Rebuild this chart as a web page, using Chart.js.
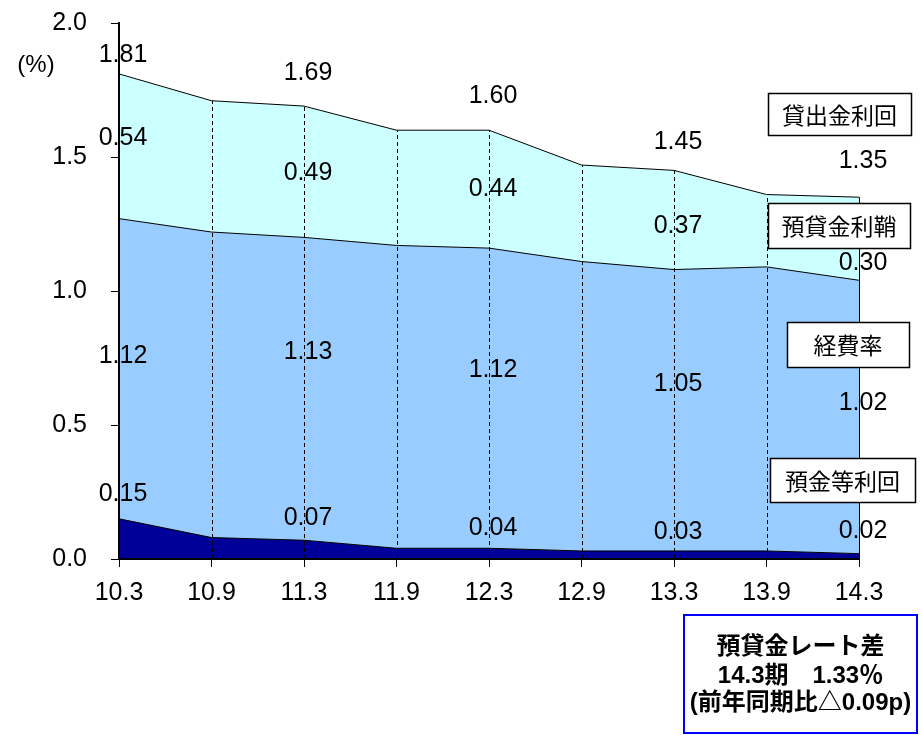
<!DOCTYPE html>
<html lang="ja">
<head>
<meta charset="utf-8">
<title>預貸金レート差の推移</title>
<script src="https://cdn.jsdelivr.net/npm/chart.js@4/dist/chart.umd.min.js"></script>
<style>
  html, body { margin: 0; padding: 0; background: #ffffff; }
  #wrap { position: relative; width: 922px; height: 735px; }
  canvas { display: block; }
</style>
</head>
<body>
<div id="wrap"><canvas id="chart" width="922" height="735"></canvas></div>
<script>
// 期（年.月）
const periods = ['10.3', '10.9', '11.3', '11.9', '12.3', '12.9', '13.3', '13.9', '14.3'];
// 預金等利回 (%)
const depositYield = [0.15, 0.08, 0.07, 0.04, 0.04, 0.03, 0.03, 0.03, 0.02];
// 経費率 (%)
const expenseRatio = [1.12, 1.14, 1.13, 1.13, 1.12, 1.08, 1.05, 1.06, 1.02];
// 貸出金利回 (%)
const loanYield = [1.81, 1.71, 1.69, 1.60, 1.60, 1.47, 1.45, 1.36, 1.35];
// 預貸金利鞘 (%)
const loanDepositSpread = [0.54, 0.49, 0.49, 0.43, 0.44, 0.36, 0.37, 0.27, 0.30];
// 数値ラベルを表示する期（3月期）
const labeledIdx = [0, 2, 4, 6, 8];
// 縦軸目盛
const yTicks = [0.0, 0.5, 1.0, 1.5, 2.0];

// 預金等利回 + 経費率（経費率の帯の上端）
const costTop = depositYield.map((d, i) => +(d + expenseRatio[i]).toFixed(2));

const NUM_FONT = '"Liberation Sans", Arial, "Noto Sans CJK JP", sans-serif';
const JP_FONT = '"Noto Sans CJK JP", "Liberation Sans", sans-serif';

// ラベルの縦方向の微調整 (px)、labeledIdx の順
const labelShift = {
  loan:    [-19, -33, -34, -28, -36],
  spread:  [-8, 1, 0, 6, 24],
  expense: [-13, -37, -28, -26, -14],
  deposit: [-25, -22, -20, -19, -23]
};

// 軸線を塗りの上に描き直す
const axisLines = {
  id: 'axisLines',
  afterDatasetsDraw(chart) {
    const { ctx, chartArea: a } = chart;
    ctx.save();
    ctx.strokeStyle = '#000';
    ctx.lineWidth = 2;
    ctx.beginPath();
    ctx.moveTo(a.left, a.top);
    ctx.lineTo(a.left, a.bottom);
    ctx.lineTo(a.right, a.bottom);
    ctx.stroke();
    ctx.restore();
  }
};

// 各期の補助線（破線）と右端の実線
const dropLines = {
  id: 'dropLines',
  afterDatasetsDraw(chart) {
    const { ctx, scales: { x, y } } = chart;
    ctx.save();
    ctx.strokeStyle = '#000';
    ctx.lineWidth = 1;
    for (let i = 1; i < periods.length; i++) {
      const px = Math.round(x.getPixelForValue(i)) + 0.5;
      ctx.setLineDash(i === periods.length - 1 ? [] : [4, 3]);
      ctx.beginPath();
      ctx.moveTo(px, y.getPixelForValue(0));
      ctx.lineTo(px, y.getPixelForValue(loanYield[i]));
      ctx.stroke();
    }
    ctx.restore();
  }
};

// 数値ラベル
const valueLabels = {
  id: 'valueLabels',
  afterDatasetsDraw(chart) {
    const { ctx, scales: { x, y } } = chart;
    ctx.save();
    ctx.font = '25px ' + NUM_FONT;
    ctx.fillStyle = '#000';
    ctx.textAlign = 'center';
    ctx.textBaseline = 'middle';
    labeledIdx.forEach((i, k) => {
      const px = x.getPixelForValue(i) + 4;
      const yLoan = y.getPixelForValue(loanYield[i]);
      const yCost = y.getPixelForValue(costTop[i]);
      const yDep = y.getPixelForValue(depositYield[i]);
      ctx.fillText(loanYield[i].toFixed(2), px, yLoan + labelShift.loan[k]);
      ctx.fillText(loanDepositSpread[i].toFixed(2), px, (yLoan + yCost) / 2 + labelShift.spread[k]);
      ctx.fillText(expenseRatio[i].toFixed(2), px, (yCost + yDep) / 2 + labelShift.expense[k]);
      ctx.fillText(depositYield[i].toFixed(2), px, yDep + labelShift.deposit[k]);
    });
    ctx.restore();
  }
};

// 系列名の囲み・単位・注記
const callouts = {
  id: 'callouts',
  afterDraw(chart) {
    const { ctx } = chart;
    ctx.save();
    ctx.textAlign = 'center';
    ctx.textBaseline = 'middle';
    ctx.fillStyle = '#000';
    ctx.font = '24px ' + NUM_FONT;
    ctx.fillText('(%)', 36, 65);

    const boxes = [
      { text: '貸出金利回', x: 768, y: 93, w: 143, h: 42 },
      { text: '預貸金利鞘', x: 768, y: 203, w: 142, h: 45 },
      { text: '経費率', x: 787, y: 322, w: 122, h: 45 },
      { text: '預金等利回', x: 770, y: 458, w: 145, h: 44 }
    ];
    ctx.font = '23px ' + JP_FONT;
    boxes.forEach(b => {
      ctx.fillStyle = '#fff';
      ctx.fillRect(b.x, b.y, b.w, b.h);
      ctx.strokeStyle = '#000';
      ctx.lineWidth = 1.5;
      ctx.strokeRect(b.x + 0.5, b.y + 0.5, b.w, b.h);
      ctx.fillStyle = '#000';
      ctx.fillText(b.text, b.x + b.w / 2, b.y + b.h / 2 + 1);
    });

    // 注記
    const nb = { x: 684, y: 615, w: 233, h: 118 };
    ctx.fillStyle = '#fff';
    ctx.fillRect(nb.x, nb.y, nb.w, nb.h);
    ctx.strokeStyle = '#0000ff';
    ctx.lineWidth = 2;
    ctx.strokeRect(nb.x, nb.y, nb.w, nb.h);
    ctx.fillStyle = '#000';
    ctx.font = 'bold 24px ' + NUM_FONT;
    const cx = nb.x + nb.w / 2;
    ctx.fillText('預貸金レート差', cx, 647);
    ctx.fillText('14.3期　1.33％', cx, 676);
    ctx.fillText('(前年同期比△0.09p)', cx, 703);
    ctx.restore();
  }
};

const baseLine = { borderColor: '#000', borderWidth: 1, pointRadius: 0, tension: 0 };

new Chart(document.getElementById('chart'), {
  type: 'line',
  data: {
    labels: periods,
    datasets: [
      { ...baseLine, label: '預金等利回', data: depositYield, backgroundColor: '#000099', fill: 'origin' },
      { ...baseLine, label: '経費率', data: costTop, backgroundColor: '#99ccff', fill: '-1' },
      { ...baseLine, label: '貸出金利回', data: loanYield, backgroundColor: '#ccffff', fill: '-1' }
    ]
  },
  options: {
    responsive: false,
    animation: false,
    layout: { padding: { top: 23, right: 63, bottom: 0, left: 0 } },
    plugins: { legend: { display: false }, tooltip: { enabled: false } },
    scales: {
      x: {
        type: 'category',
        offset: false,
        grid: { drawOnChartArea: false, drawTicks: true, tickLength: 8, color: '#000' },
        border: { color: '#000', width: 2 },
        ticks: { color: '#000', font: { size: 25, family: NUM_FONT }, padding: 11, maxRotation: 0, autoSkip: false },
        afterFit(s) { s.height = 176; }
      },
      y: {
        min: 0,
        max: 2,
        afterBuildTicks(s) { s.ticks = yTicks.map(v => ({ value: v })); },
        grid: { drawOnChartArea: false, drawTicks: true, tickLength: 8, color: '#000' },
        border: { color: '#000', width: 2 },
        ticks: { color: '#000', font: { size: 25, family: NUM_FONT }, padding: 24, callback: v => v.toFixed(1) },
        afterFit(s) { s.width = 119; s.paddingTop = 0; s.paddingBottom = 0; }
      }
    }
  },
  plugins: [axisLines, dropLines, valueLabels, callouts]
});
</script>
</body>
</html>
